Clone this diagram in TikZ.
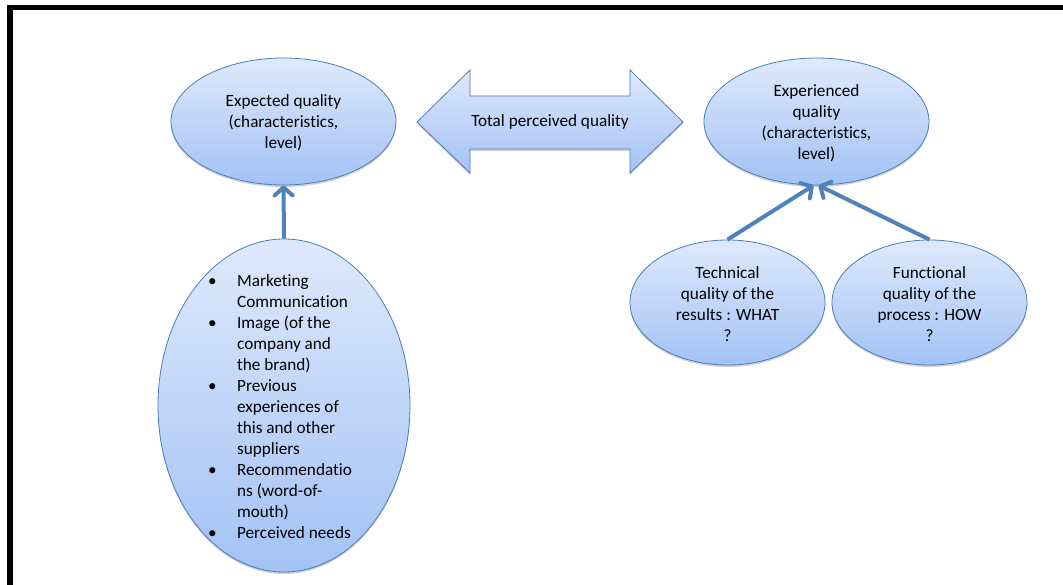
\documentclass[tikz,border=0pt]{standalone}
\usepackage{fontspec}
\setmainfont[Ligatures=NoCommon,Contextuals=NoAlternate]{Carlito}
\usetikzlibrary{shapes.geometric,arrows.meta,shadows}
\definecolor{topblue}{RGB}{222,233,252}
\definecolor{botblue}{RGB}{163,194,245}
\definecolor{edgeblue}{RGB}{74,126,187}
\definecolor{arrowblue}{RGB}{79,129,189}
\tikzset{
  bubble/.style={ellipse, draw=edgeblue, line width=0.8pt, top color=topblue, bottom color=botblue,
    inner sep=0pt, drop shadow={shadow xshift=0pt, shadow yshift=-2pt, opacity=0.18, fill=black}},
  label/.style={align=center, font=\fontsize{17.2}{21}\selectfont, text=black, inner sep=0pt},
  link/.style={draw=arrowblue, line width=4pt, -{Straight Barb[length=8pt,width=18pt,line cap=round,line join=round]}}
}
\begin{document}
\begin{tikzpicture}[x=1pt,y=-1pt]
\useasboundingbox (0,0) rectangle (1063,585);
\fill[white] (0,0) rectangle (1063,585);
% frame
\fill[black] (7,5) rectangle (1063,10.5);
\fill[black] (7,5) rectangle (13,585);

% shapes
\node[bubble, minimum width=225pt, minimum height=127pt] (exp) at (283.5,121.5) {};
\node[label] (expt) at (283.5,123) {Expected quality\\(characteristics,\\level)};

\node[bubble, minimum width=225pt, minimum height=127pt] (exq) at (816.5,121.5) {};
\node[label] (exqt) at (816.5,123) {Experienced\\quality\\(characteristics,\\level)};

\node[bubble, minimum width=252pt, minimum height=333pt] (src) at (284,405.5) {};
\node[label, align=left] (srct) at (280,406.5) {%
\makebox[29pt][l]{\textbullet}Marketing\\
\hspace*{29pt}Communication\\
\makebox[29pt][l]{\textbullet}Image (of the\\
\hspace*{29pt}company and\\
\hspace*{29pt}the brand)\\
\makebox[29pt][l]{\textbullet}Previous\\
\hspace*{29pt}experiences of\\
\hspace*{29pt}this and other\\
\hspace*{29pt}suppliers\\
\makebox[29pt][l]{\textbullet}Recommendatio\\
\hspace*{29pt}ns (word-of-\\
\hspace*{29pt}mouth)\\
\makebox[29pt][l]{\textbullet}Perceived needs};

\node[bubble, minimum width=195pt, minimum height=125pt] (tech) at (727.5,302.5) {};
\node[label] (techt) at (727.5,304.5) {Technical\\quality of the\\results : WHAT\\?};

\node[bubble, minimum width=195pt, minimum height=125pt] (func) at (929.5,302.5) {};
\node[label] (funct) at (929.5,304.5) {Functional\\quality of the\\process : HOW\\?};

% double arrow
\path[draw=edgeblue, line width=0.8pt, top color=topblue, bottom color=botblue,
  drop shadow={shadow xshift=0pt, shadow yshift=-2pt, opacity=0.18, fill=black}]
  (417,122) -- (470,70) -- (470,96) -- (630,96) -- (630,70) -- (683,122)
  -- (630,173) -- (630,149) -- (470,149) -- (470,173) -- cycle;
\node[label] (tpq) at (550,122) {Total perceived quality};

% connectors
\draw[link] (src.north) -- (exp.south);
\draw[link] (tech.north) -- ([xshift=-3pt]exq.south);
\draw[link] (func.north) -- ([xshift=2pt]exq.south);
\end{tikzpicture}
\end{document}
